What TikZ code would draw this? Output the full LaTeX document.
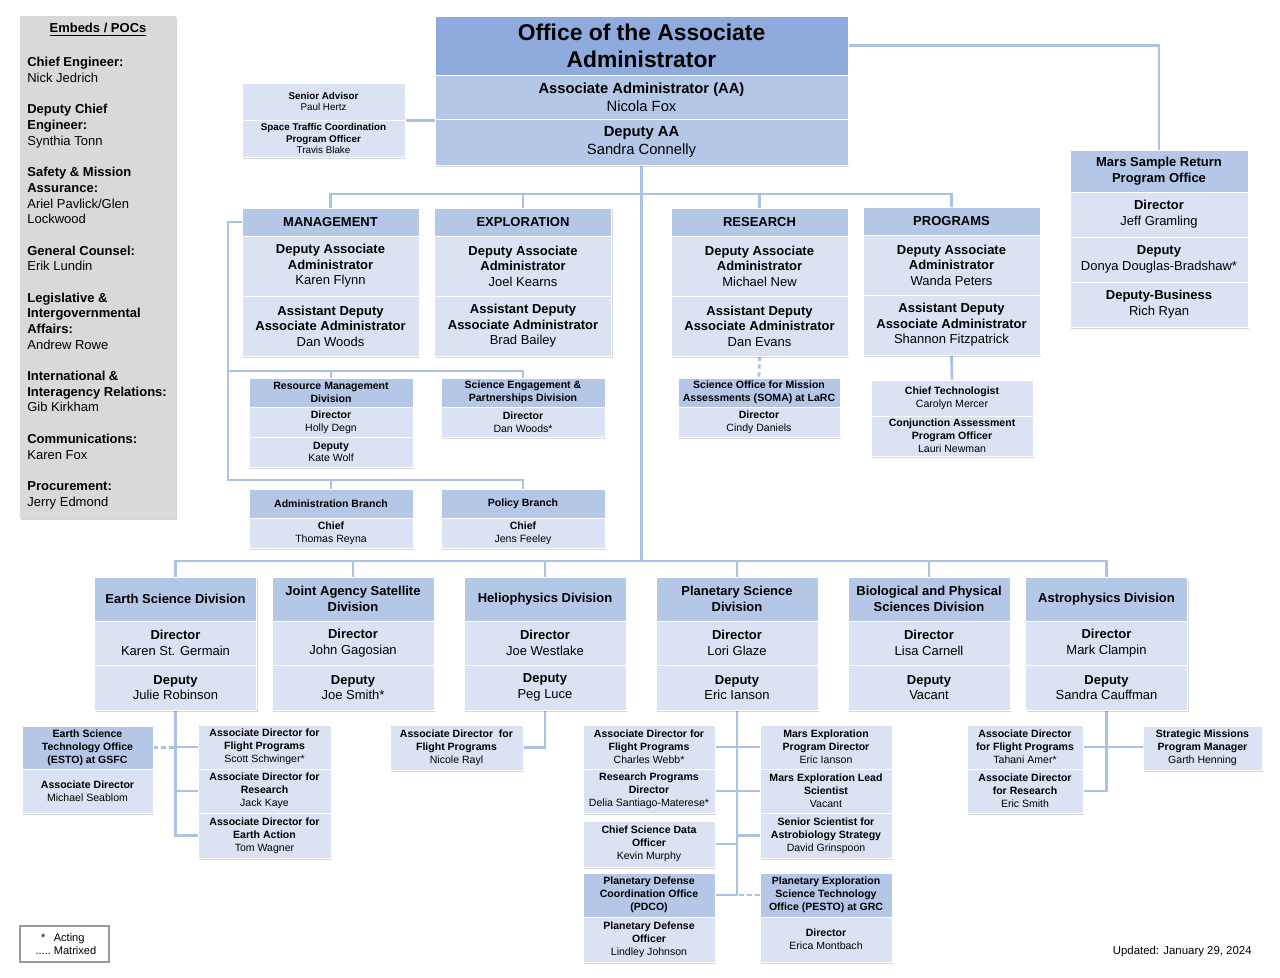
\documentclass[tikz,border=0pt]{standalone}
\usepackage{fontspec}
\setmainfont{Liberation Sans}
\usepackage{xcolor}
\usepackage{tikz}
\usetikzlibrary{shadows, backgrounds, calc}
\definecolor{oaaBlue}{RGB}{143,170,220}
\definecolor{headBlue}{RGB}{180,199,231}
\definecolor{bodyBlue}{RGB}{218,226,243}
\definecolor{linkBlue}{RGB}{172,193,230}
\definecolor{pocGray}{RGB}{217,217,217}
% font sizes (1px of the chart = 0.567pt)
\newcommand{\fTitle}{\fontsize{13}{15.3}\selectfont\bfseries}
\newcommand{\fAA}{\fontsize{8.4}{10.2}\selectfont}
\newcommand{\fDir}{\fontsize{7.4}{8.8}\selectfont}
\newcommand{\fDiv}{\fontsize{7.4}{9}\selectfont}
\newcommand{\fOff}{\fontsize{6}{7.3}\selectfont}
\newcommand{\fSub}{\fontsize{6}{7.4}\selectfont}
\newcommand{\fTiny}{\fontsize{5.6}{6.4}\selectfont}
\newcommand{\fSide}{\fontsize{7.4}{8.94}\selectfont}
\newcommand{\fUpd}{\fontsize{6.5}{7.8}\selectfont}
\newcommand{\fLeg}{\fontsize{6.3}{7.6}\selectfont}

\begin{document}
\begin{tikzpicture}[
    x=0.02cm, y=-0.02cm,
    % one section of a box
    cell/.style={
        draw=white, line width=0.5pt, inner sep=0pt,
        align=center, text=black,
        drop shadow={shadow xshift=0.7pt, shadow yshift=-0.9pt,
                     opacity=0.16, fill=black}
    },
    hcell/.style={cell, fill=headBlue},
    bcell/.style={cell, fill=bodyBlue},
    dirW/.style={minimum width=3.54cm},
    divW/.style={minimum width=3.24cm},
    offW/.style={minimum width=3.28cm},
    % connectors
    link/.style={draw=linkBlue, line width=1.6pt},
    mtx/.style={link, dash pattern=on 2.5pt off 2pt}
]
\useasboundingbox (0,0) rectangle (1280,977);
% ── Embeds / POCs side panel ────────────────────────────────
\node[fill=pocGray, minimum width=3.12cm, minimum height=10.04cm,
      drop shadow={shadow xshift=0.7pt, shadow yshift=-0.9pt, opacity=0.16, fill=black}]
    (poc) at (98,267) {};
\node[font=\fSide\bfseries] (poctitle) at (98,30) {\underline{Embeds / POCs}};
\node[font=\fSide, align=left, anchor=north west, inner sep=0pt] (poclist) at (27,57)
    {\textbf{Chief Engineer:}\\Nick Jedrich\\[8.9pt]
     \textbf{Deputy Chief}\\\textbf{Engineer:}\\Synthia Tonn\\[8.9pt]
     \textbf{Safety \& Mission}\\\textbf{Assurance:}\\Ariel Pavlick/Glen\\Lockwood\\[8.9pt]
     \textbf{General Counsel:}\\Erik Lundin\\[8.9pt]
     \textbf{Legislative \&}\\\textbf{Intergovernmental}\\\textbf{Affairs:}\\Andrew Rowe\\[8.9pt]
     \textbf{International \&}\\\textbf{Interagency Relations:}\\Gib Kirkham\\[8.9pt]
     \textbf{Communications:}\\Karen Fox\\[8.9pt]
     \textbf{Procurement:}\\Jerry Edmond};
% ── Office of the Associate Administrator ───────────────────
\node[cell, fill=oaaBlue, minimum width=8.26cm, minimum height=1.18cm, font=\fTitle]
    (oaa) at (641.5,45.5) {Office of the Associate\\Administrator};
\node[hcell, minimum width=8.26cm, minimum height=0.88cm, font=\fAA]
    (aa) at (641.5,97) {\textbf{Associate Administrator (AA)}\\Nicola Fox};
\node[hcell, minimum width=8.26cm, minimum height=0.92cm, font=\fAA]
    (daa) at (641.5,142) {\textbf{Deputy AA}\\Sandra Connelly};
% senior advisor
\node[bcell, minimum width=3.26cm, minimum height=0.74cm, font=\fTiny]
    (sadv) at (323.5,101.5) {\textbf{Senior Advisor}\\Paul Hertz};
\node[bcell, minimum width=3.26cm, minimum height=0.74cm, font=\fTiny]
    (stc) at (323.5,138.5)
    {\textbf{Space Traffic Coordination}\\\textbf{Program Officer}\\Travis Blake};
% Mars Sample Return
\node[hcell, minimum width=3.56cm, minimum height=0.84cm, font=\fDiv\bfseries]
    (msr) at (1159,171) {Mars Sample Return\\Program Office};
\node[bcell, minimum width=3.56cm, minimum height=0.9cm, font=\fDiv]
    (msrdir) at (1159,214.5) {\textbf{Director}\\Jeff Gramling};
\node[bcell, minimum width=3.56cm, minimum height=0.9cm, font=\fDiv]
    (msrdep) at (1159,259.5) {\textbf{Deputy}\\Donya Douglas-Bradshaw*};
\node[bcell, minimum width=3.56cm, minimum height=0.9cm, font=\fDiv]
    (msrbus) at (1159,304.5) {\textbf{Deputy-Business}\\Rich Ryan};
% ── Directorates ────────────────────────────────────────────
\node[hcell, dirW, minimum height=0.56cm, font=\fDir\bfseries] (mgmt) at (330.5,222) {MANAGEMENT};
\node[bcell, dirW, minimum height=1.2cm, font=\fDir] (mgmtdep) at (330.5,266)
    {\textbf{Deputy Associate}\\\textbf{Administrator}\\Karen Flynn};
\node[bcell, dirW, minimum height=1.2cm, font=\fDir] (mgmtasst) at (330.5,326)
    {\textbf{Assistant Deputy}\\\textbf{Associate Administrator}\\Dan Woods};
\node[hcell, dirW, minimum height=0.56cm, font=\fDir\bfseries] (expl) at (523,222) {EXPLORATION};
\node[bcell, dirW, minimum height=1.2cm, font=\fDir] (expldep) at (523,266)
    {\textbf{Deputy Associate}\\\textbf{Administrator}\\Joel Kearns};
\node[bcell, dirW, minimum height=1.2cm, font=\fDir] (explasst) at (523,326)
    {\textbf{Assistant Deputy}\\\textbf{Associate Administrator}\\Brad Bailey};
\node[hcell, dirW, minimum height=0.56cm, font=\fDir\bfseries] (res) at (759.5,222) {RESEARCH};
\node[bcell, dirW, minimum height=1.2cm, font=\fDir] (resdep) at (759.5,266)
    {\textbf{Deputy Associate}\\\textbf{Administrator}\\Michael New};
\node[bcell, dirW, minimum height=1.2cm, font=\fDir] (resasst) at (759.5,326)
    {\textbf{Assistant Deputy}\\\textbf{Associate Administrator}\\Dan Evans};
\node[hcell, dirW, minimum height=0.56cm, font=\fDir\bfseries] (prog) at (951.5,221) {PROGRAMS};
\node[bcell, dirW, minimum height=1.2cm, font=\fDir] (progdep) at (951.5,265)
    {\textbf{Deputy Associate}\\\textbf{Administrator}\\Wanda Peters};
\node[bcell, dirW, minimum height=1.2cm, font=\fDir] (progasst) at (951.5,325)
    {\textbf{Assistant Deputy}\\\textbf{Associate Administrator}\\Shannon Fitzpatrick};
% management offices
\node[hcell, offW, minimum height=0.58cm, font=\fOff\bfseries] (rmd) at (331,392.5)
    {Resource Management\\Division};
\node[bcell, offW, minimum height=0.6cm, font=\fOff] (rmddir) at (331,422) {\textbf{Director}\\Holly Degn};
\node[bcell, offW, minimum height=0.6cm, font=\fOff] (rmddep) at (331,452) {\textbf{Deputy}\\Kate Wolf};
\node[hcell, offW, minimum height=0.58cm, font=\fOff\bfseries] (sepd) at (523,392.5)
    {Science Engagement \&\\Partnerships Division};
\node[bcell, offW, minimum height=0.6cm, font=\fOff] (sepddir) at (523,422) {\textbf{Director}\\Dan Woods*};
\node[hcell, offW, minimum height=0.58cm, font=\fOff\bfseries] (admb) at (331,503.5) {Administration Branch};
\node[bcell, offW, minimum height=0.6cm, font=\fOff] (admbch) at (331,533) {\textbf{Chief}\\Thomas Reyna};
\node[hcell, offW, minimum height=0.58cm, font=\fOff\bfseries] (polb) at (523,503.5) {Policy Branch};
\node[bcell, offW, minimum height=0.6cm, font=\fOff] (polbch) at (523,533) {\textbf{Chief}\\Jens Feeley};
% research and programs offices
\node[hcell, divW, minimum height=0.58cm, font=\fOff\bfseries] (soma) at (759,392.5)
    {Science Office for Mission\\Assessments (SOMA) at LaRC};
\node[bcell, divW, minimum height=0.6cm, font=\fOff] (somadir) at (759,422) {\textbf{Director}\\Cindy Daniels};
\node[bcell, divW, minimum height=0.72cm, font=\fOff] (ctech) at (952,398)
    {\textbf{Chief Technologist}\\Carolyn Mercer};
\node[bcell, divW, minimum height=0.8cm, font=\fOff] (capo) at (952,436)
    {\textbf{Conjunction Assessment}\\\textbf{Program Officer}\\Lauri Newman};
% ── Science divisions ───────────────────────────────────────
\node[hcell, divW, minimum height=0.88cm, font=\fDiv\bfseries] (earth) at (175.5,599) {Earth Science Division};
\node[bcell, divW, minimum height=0.88cm, font=\fDiv] (earthdir) at (175.5,643) {\textbf{Director}\\Karen St. Germain};
\node[bcell, divW, minimum height=0.9cm, font=\fDiv] (earthdep) at (175.5,687.5) {\textbf{Deputy}\\Julie Robinson};
\node[hcell, divW, minimum height=0.88cm, font=\fDiv\bfseries] (jasd) at (353,599) {Joint Agency Satellite\\Division};
\node[bcell, divW, minimum height=0.88cm, font=\fDiv] (jasddir) at (353,643) {\textbf{Director}\\John Gagosian};
\node[bcell, divW, minimum height=0.9cm, font=\fDiv] (jasddep) at (353,687.5) {\textbf{Deputy}\\Joe Smith*};
\node[hcell, divW, minimum height=0.88cm, font=\fDiv\bfseries] (helio) at (545,599) {Heliophysics Division};
\node[bcell, divW, minimum height=0.88cm, font=\fDiv] (heliodir) at (545,643) {\textbf{Director}\\Joe Westlake};
\node[bcell, divW, minimum height=0.9cm, font=\fDiv] (heliodep) at (545,687.5) {\textbf{Deputy}\\Peg Luce};
\node[hcell, divW, minimum height=0.88cm, font=\fDiv\bfseries] (plan) at (737,599) {Planetary Science\\Division};
\node[bcell, divW, minimum height=0.88cm, font=\fDiv] (plandir) at (737,643) {\textbf{Director}\\Lori Glaze};
\node[bcell, divW, minimum height=0.9cm, font=\fDiv] (plandep) at (737,687.5) {\textbf{Deputy}\\Eric Ianson};
\node[hcell, divW, minimum height=0.88cm, font=\fDiv\bfseries] (bps) at (929,599) {Biological and Physical\\Sciences Division};
\node[bcell, divW, minimum height=0.88cm, font=\fDiv] (bpsdir) at (929,643) {\textbf{Director}\\Lisa Carnell};
\node[bcell, divW, minimum height=0.9cm, font=\fDiv] (bpsdep) at (929,687.5) {\textbf{Deputy}\\Vacant};
\node[hcell, divW, minimum height=0.88cm, font=\fDiv\bfseries] (astro) at (1106.5,599) {Astrophysics Division};
\node[bcell, divW, minimum height=0.88cm, font=\fDiv] (astrodir) at (1106.5,643) {\textbf{Director}\\Mark Clampin};
\node[bcell, divW, minimum height=0.9cm, font=\fDiv] (astrodep) at (1106.5,687.5) {\textbf{Deputy}\\Sandra Cauffman};
% earth science offices
\node[hcell, minimum width=2.62cm, minimum height=0.86cm, font=\fSub\bfseries] (esto) at (87.5,747.5)
    {Earth Science\\Technology Office\\(ESTO) at GSFC};
\node[bcell, minimum width=2.62cm, minimum height=0.88cm, font=\fSub] (estoad) at (87.5,791)
    {\textbf{Associate Director}\\Michael Seablom};
\node[bcell, minimum width=2.66cm, minimum height=0.88cm, font=\fSub] (eafp) at (264.5,747)
    {\textbf{Associate Director for}\\\textbf{Flight Programs}\\Scott Schwinger*};
\node[bcell, minimum width=2.66cm, minimum height=0.88cm, font=\fSub] (ear) at (264.5,791)
    {\textbf{Associate Director for}\\\textbf{Research}\\Jack Kaye};
\node[bcell, minimum width=2.66cm, minimum height=0.9cm, font=\fSub] (eaea) at (264.5,835.5)
    {\textbf{Associate Director for}\\\textbf{Earth Action}\\Tom Wagner};
% heliophysics office
\node[bcell, minimum width=2.66cm, minimum height=0.9cm, font=\fSub] (hfp) at (456.5,747.5)
    {\textbf{Associate Director\ \ for}\\\textbf{Flight Programs}\\Nicole Rayl};
% planetary science offices
\node[bcell, minimum width=2.64cm, minimum height=0.88cm, font=\fSub] (pfp) at (649,747)
    {\textbf{Associate Director for}\\\textbf{Flight Programs}\\Charles Webb*};
\node[bcell, minimum width=2.64cm, minimum height=0.88cm, font=\fSub] (prp) at (649,791)
    {\textbf{Research Programs}\\\textbf{Director}\\Delia Santiago-Materese*};
\node[bcell, minimum width=2.64cm, minimum height=0.92cm, font=\fSub] (pcsdo) at (649,844)
    {\textbf{Chief Science Data}\\\textbf{Officer}\\Kevin Murphy};
\node[hcell, minimum width=2.64cm, minimum height=0.88cm, font=\fOff\bfseries] (pdco) at (649,895)
    {Planetary Defense\\Coordination Office\\(PDCO)};
\node[bcell, minimum width=2.64cm, minimum height=0.9cm, font=\fSub] (pdo) at (649,939.5)
    {\textbf{Planetary Defense}\\\textbf{Officer}\\Lindley Johnson};
\node[bcell, minimum width=2.64cm, minimum height=0.88cm, font=\fSub] (mepd) at (826,747)
    {\textbf{Mars Exploration}\\\textbf{Program Director}\\Eric Ianson};
\node[bcell, minimum width=2.64cm, minimum height=0.88cm, font=\fSub] (mels) at (826,791)
    {\textbf{Mars Exploration Lead}\\\textbf{Scientist}\\Vacant};
\node[bcell, minimum width=2.64cm, minimum height=0.9cm, font=\fSub] (ssas) at (826,835.5)
    {\textbf{Senior Scientist for}\\\textbf{Astrobiology Strategy}\\David Grinspoon};
\node[hcell, minimum width=2.64cm, minimum height=0.88cm, font=\fOff\bfseries] (pesto) at (826,895)
    {Planetary Exploration\\Science Technology\\Office (PESTO) at GRC};
\node[bcell, minimum width=2.64cm, minimum height=0.9cm, font=\fSub] (pestodir) at (826,939.5)
    {\textbf{Director}\\Erica Montbach};
% astrophysics offices
\node[bcell, minimum width=2.32cm, minimum height=0.88cm, font=\fSub] (afp) at (1025,747)
    {\textbf{Associate Director}\\\textbf{for Flight Programs}\\Tahani Amer*};
\node[bcell, minimum width=2.32cm, minimum height=0.88cm, font=\fSub] (ar) at (1025,791)
    {\textbf{Associate Director}\\\textbf{for Research}\\Eric Smith};
\node[bcell, minimum width=2.38cm, minimum height=0.88cm, font=\fSub] (smpm) at (1202.5,748)
    {\textbf{Strategic Missions}\\\textbf{Program Manager}\\Garth Henning};
% ── Legend and date ─────────────────────────────────────────
\node[draw=gray!80, line width=0.6pt, minimum width=1.78cm, minimum height=0.72cm,
      align=left, font=\fLeg] (legend) at (64.5,944)
    {\makebox[1.9em][c]{*}Acting\\\makebox[1.9em][c]{.....}Matrixed};
\node[anchor=east, font=\fUpd, inner sep=0pt] (upd) at (1252,952) {Updated: January 29, 2024};
% ── Connectors ──────────────────────────────────────────────
\coordinate (topbus) at (641,194);
\coordinate (divbus) at (641,561);
\coordinate (mrow) at (228,371);
\coordinate (mspine) at (228,480);
\begin{scope}[on background layer]
\draw[link] (daa.south) -- (daa.south |- divbus);
\draw[link] (oaa.east) -| (msr.north);
\draw[link] (sadv.south east) -- (sadv.south east -| aa.west);
% directorates
\draw[link] (mgmt.north) |- (topbus) -| (prog.north);
\draw[link] (expl.north) -- (expl.north |- topbus);
\draw[link] (res.north) -- (res.north |- topbus);
% management offices
\draw[link] (mgmt.west) -| (mspine) -| (polb.north);
\draw[link] (admb.north) -- (admb.north |- mspine);
\draw[link] (mrow) -| (sepd.north);
\draw[link] (rmd.north) -- (rmd.north |- mrow);
\draw[mtx] (resasst.south) -- (soma.north);
\draw[link] (progasst.south) -- (ctech.north);
% divisions
\draw[link] (earth.north) |- (divbus) -| (astro.north);
\foreach \d in {jasd, helio, plan, bps}
    \draw[link] (\d.north) -- (\d.north |- divbus);
% earth science
\draw[link] (earthdep.south) |- (eaea.west);
\draw[link] (eafp.west) -- (eafp.west -| earthdep.south);
\draw[link] (ear.west) -- (ear.west -| earthdep.south);
\draw[mtx] (esto.east) -- (esto.east -| earthdep.south);
% heliophysics
\draw[link] (heliodep.south) |- (hfp.east);
% planetary science
\draw[link] (plandep.south) |- (pdco.east);
\foreach \o in {pfp, prp, pcsdo}
    \draw[link] (\o.east) -- (\o.east -| plandep.south);
\foreach \o in {mepd, mels, ssas}
    \draw[link] (\o.west) -- (\o.west -| plandep.south);
\draw[mtx] (pesto.west) -- (pesto.west -| plandep.south);
% astrophysics
\draw[link] (astrodep.south) |- (ar.east);
\draw[link] (afp.east) -- (afp.east -| smpm.west);
\end{scope}
\end{tikzpicture}
\end{document}
